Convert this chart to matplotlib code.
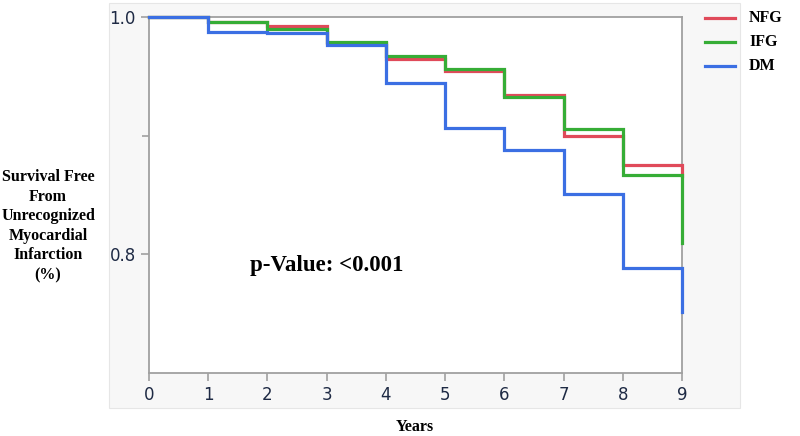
import matplotlib.pyplot as plt
from matplotlib.patches import Rectangle

# survival estimates, one value per year (post-step)
years = [0, 1, 2, 3, 4, 5, 6, 7, 8, 9]
nfg = [1.0, 0.9955, 0.992, 0.9785, 0.9647, 0.9544, 0.9339, 0.8994, 0.8756, 0.866]
ifg = [1.0, 0.9955, 0.9896, 0.9787, 0.9675, 0.956, 0.933, 0.9056, 0.8672, 0.8098]
dm = [1.0, 0.9877, 0.9868, 0.976, 0.9445, 0.9065, 0.8877, 0.851, 0.7888, 0.751]
names = ["NFG", "IFG", "DM"]
colors = ["#e04a5a", "#36ad36", "#3b6fe3"]

fig = plt.figure(figsize=(8, 4.36), dpi=100)
# light grey panel behind the graph
fig.patches.append(Rectangle((109/800, 1-408/436), (740-109)/800, (408-3)/436,
                             transform=fig.transFigure, facecolor="#f7f7f7",
                             edgecolor="#e6e6e6", lw=0.8, zorder=-5))
ax = fig.add_axes([149/800, 1-373/436, (682-149)/800, (373-17)/436])
ax.set_zorder(2)
ax.set_facecolor("white")

for s, c in zip([nfg, ifg, dm], colors):
    ax.step(years, s, where="post", color=c, lw=2.3, solid_joinstyle="miter",
            clip_on=False, zorder=3)

ax.set_xlim(0, 9)
ax.set_ylim(0.70, 1.0)
ax.set_xticks(range(10))
ax.set_yticks([0.8, 1.0])
ax.set_yticklabels(["0.8", "1.0"])
ax.set_yticks([0.9], minor=True)
for sp in ax.spines.values():
    sp.set_color("#a0a0a0")
    sp.set_linewidth(1.3)
ax.tick_params(which="both", direction="out", color="#a0a0a0", width=1.2,
               length=6, labelsize=12, labelcolor="#1e2a44")
ax.tick_params(which="minor", length=5)

serif = "Liberation Serif"
ax.text(3.0, 0.791, "p-Value: <0.001", fontfamily=serif, fontweight="bold",
        fontsize=16.5, ha="center", va="center")
fig.text(415/800, 1-427/436, "Years", fontfamily=serif, fontweight="bold",
         fontsize=11.5, ha="center", va="center")
fig.text(48/800, 1-226/436,
         "Survival Free\nFrom\nUnrecognized\nMyocardial\nInfarction\n(%)",
         fontfamily=serif, fontweight="bold", fontsize=11.5, ha="center",
         va="center", linespacing=1.3)

# legend drawn by hand at the right
for i, (n, c) in enumerate(zip(names, colors)):
    yy = 1 - (18 + 24*i)/436
    fig.lines.append(plt.Line2D([705/800, 735/800], [yy, yy], color=c, lw=2.3,
                                transform=fig.transFigure))
    fig.text(749/800, yy, n, fontfamily=serif, fontweight="bold", fontsize=11.5,
             ha="left", va="center")

fig.savefig("out.png", dpi=100)
